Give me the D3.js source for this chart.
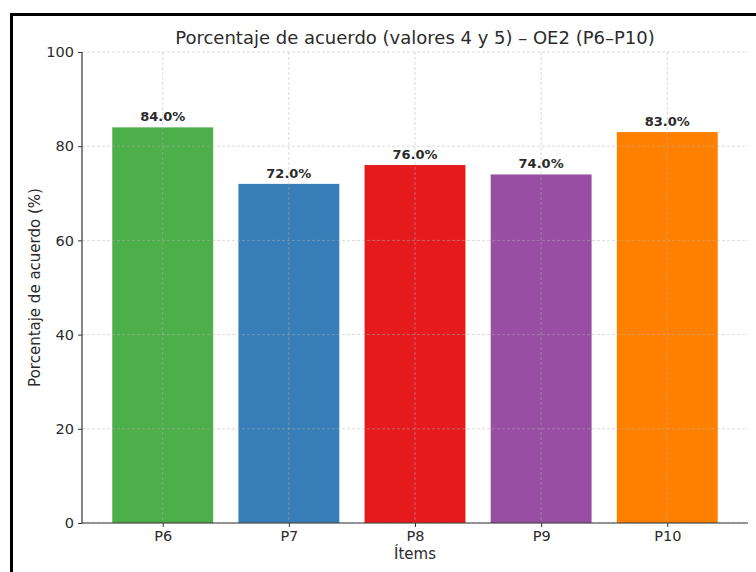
<!DOCTYPE html>
<html><head><meta charset="utf-8">
<script src="https://cdn.jsdelivr.net/npm/d3@7"></script>
<style>body{margin:0;background:#fff}svg{display:block;font-family:"DejaVu Sans",sans-serif}</style>
</head><body><svg id="c" width="756" height="572"></svg>
<script>
const categories = ["P6","P7","P8","P9","P10"];
const values = [84.0,72.0,76.0,74.0,83.0];
const colors = ["#4daf4a","#377eb8","#e41a1c","#984ea3","#ff7f00"];
const yTicks = [0,20,40,60,80,100];
const title = "Porcentaje de acuerdo (valores 4 y 5) – OE2 (P6–P10)";
const xLabel = "Ítems";
const yLabel = "Porcentaje de acuerdo (%)";

const svg = d3.select("#c");
const L = 82, R = 748, T = 52, B = 523;
const txt = "#2b2b2b";

svg.append("rect").attr("x",11.5).attr("y",14.5).attr("width",800).attr("height",600)
  .attr("fill","none").attr("stroke","#000").attr("stroke-width",3);

const x = d3.scaleLinear().domain([-0.64, 4.64]).range([L, R]);
const y = d3.scaleLinear().domain([0,100]).range([B, T]);
const bw = x(0.4) - x(-0.4);

const g = svg.append("g");
g.selectAll("rect.bar").data(values).join("rect").attr("class","bar")
  .attr("x",(d,i)=>x(i)-bw/2).attr("width",bw)
  .attr("y",d=>y(d)).attr("height",d=>B-y(d))
  .attr("fill",(d,i)=>colors[i]);

g.selectAll("line.hg").data(yTicks).join("line").attr("class","hg")
  .attr("x1",L).attr("x2",R).attr("y1",d=>y(d)).attr("y2",d=>y(d))
  .attr("stroke","#b0b0b0").attr("stroke-opacity",0.6).attr("stroke-dasharray","3,2").attr("stroke-width",0.8);
g.selectAll("line.vg").data(categories).join("line").attr("class","vg")
  .attr("x1",(d,i)=>x(i)).attr("x2",(d,i)=>x(i)).attr("y1",T).attr("y2",B)
  .attr("stroke","#b0b0b0").attr("stroke-opacity",0.6).attr("stroke-dasharray","3,2").attr("stroke-width",0.8);

const yAxis = d3.axisLeft(y).tickValues(yTicks).tickSize(4).tickPadding(4);
const ya = svg.append("g").attr("transform",`translate(${L},0)`).call(yAxis);
const xAxis = d3.axisBottom(x).tickValues(d3.range(categories.length)).tickFormat(i=>categories[i]).tickSize(4).tickPadding(4);
const xa = svg.append("g").attr("transform",`translate(0,${B})`).call(xAxis);
[ya,xa].forEach(a=>{
  a.select(".domain").attr("stroke","#333").attr("stroke-width",1.2);
  a.selectAll(".tick line").attr("stroke","#333");
  a.selectAll(".tick text").attr("fill",txt).style("font-size","14.5px").style("font-family","DejaVu Sans");
});
xa.select(".domain").attr("d",`M${L},0H${R}`);
ya.select(".domain").attr("d",`M0,${B}V${T}`);

g.selectAll("text.val").data(values).join("text").attr("class","val")
  .attr("x",(d,i)=>x(i)).attr("y",d=>y(d)-6).attr("text-anchor","middle")
  .attr("fill",txt).style("font-size","13px").style("font-weight","bold")
  .text(d=>d.toFixed(1)+"%");

svg.append("text").attr("x",(L+R)/2).attr("y",44).attr("text-anchor","middle")
  .attr("fill",txt).style("font-size","18px").text(title);
svg.append("text").attr("x",(L+R)/2).attr("y",559).attr("text-anchor","middle")
  .attr("fill",txt).style("font-size","15px").text(xLabel);
svg.append("text").attr("transform",`translate(40,${(T+B)/2}) rotate(-90)`).attr("text-anchor","middle")
  .attr("fill",txt).style("font-size","15px").text(yLabel);
</script></body></html>
